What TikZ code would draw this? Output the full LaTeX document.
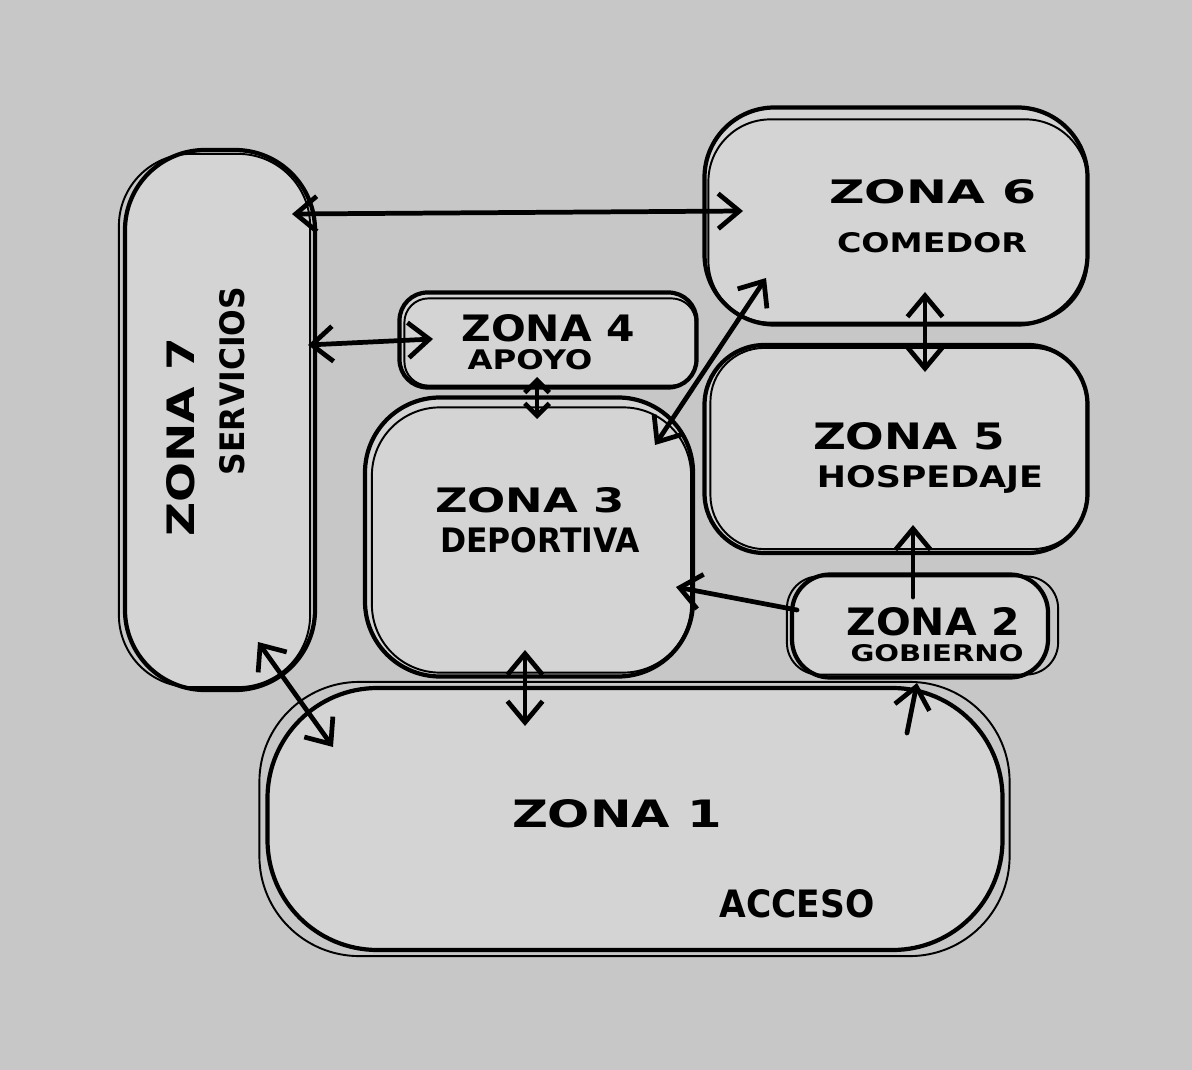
\documentclass[tikz,border=0pt]{standalone}
\usepackage{fontspec}
\usepackage{graphicx}
\setsansfont{DejaVu Sans}
\usetikzlibrary{arrows.meta,calc}
\newdimen\px \px=0.02cm
\newcommand{\hw}[3]{\resizebox{#1\px}{#2\px}{\sffamily\bfseries #3}}
\definecolor{bgc}{gray}{0.78}
\definecolor{zfill}{gray}{0.83}
\begin{document}
\begin{tikzpicture}[x=0.02cm,y=-0.02cm,
  zone/.style={draw=black, line width=2.4pt, fill=zfill, rounded corners=#1, inner sep=0pt, shape=rectangle},
  sketch/.style={draw=black, line width=1.1pt, rounded corners=#1},
  lbl/.style={inner sep=0pt, text=black},
  onearr/.style={line width=2.7pt, line cap=round, -{Straight Barb[length=12pt,width=20pt]}},
  twoarr/.style={line width=2.7pt, line cap=round, {Straight Barb[length=12pt,width=20pt]}-{Straight Barb[length=12pt,width=20pt]}},
  shortarr/.style={line width=2.7pt, line cap=round, {Straight Barb[length=7pt,width=14pt]}-{Straight Barb[length=7pt,width=14pt]}}
]
\fill[bgc] (0,0) rectangle (1192,1070);
\useasboundingbox (0,0) rectangle (1192,1070);

% zones
\node[zone=80\px, minimum width=190\px, minimum height=540\px] (z7) at (220,420) {};
\node[zone=70\px, minimum width=383\px, minimum height=217\px] (z6) at (896,216) {};
\node[zone=28\px, minimum width=297\px, minimum height=95\px] (z4) at (548,340) {};
\node[zone=75\px, minimum width=328\px, minimum height=279\px] (z3) at (529,537) {};
\node[zone=60\px, minimum width=383\px, minimum height=208\px] (z5) at (896,449) {};
\node[zone=38\px, minimum width=256\px, minimum height=103\px] (z2) at (920,626) {};
\node[zone=110\px, minimum width=735\px, minimum height=262\px] (z1) at (635,819) {};

% second sketch strokes
\draw[sketch=72\px] ($(z7.north west)+(-4,6)$) rectangle ($(z7.south east)+(-7,-5)$);
\draw[sketch=62\px] ($(z6.north west)+(6,14)$) rectangle ($(z6.south east)+(-2,-4)$);
\draw[sketch=24\px] ($(z4.north west)+(7,8)$) rectangle ($(z4.south east)+(-3,-4)$);
\draw[sketch=68\px] ($(z3.north west)+(9,12)$) rectangle ($(z3.south east)+(-4,-6)$);
\draw[sketch=54\px] ($(z5.north west)+(8,5)$) rectangle ($(z5.south east)+(-3,-6)$);
\draw[sketch=32\px] ($(z2.north west)+(-3,4)$) rectangle ($(z2.south east)+(8,-5)$);
\draw[sketch=100\px] ($(z1.north west)+(-6,-4)$) rectangle ($(z1.south east)+(5,4)$);

% labels
\node[lbl, rotate=90] (t7a) at (181,437) {\hw{199}{28}{ZONA 7}};
\node[lbl, rotate=90] (t7b) at (232,381) {\hw{188}{25}{SERVICIOS}};
\node[lbl] (t6a) at (933,192) {\hw{207}{24}{ZONA 6}};
\node[lbl] (t6b) at (932,243) {\hw{190}{20}{COMEDOR}};
\node[lbl] (t4a) at (548,328) {\hw{173}{27}{ZONA 4}};
\node[lbl] (t4b) at (530,360) {\hw{125}{20}{APOYO}};
\node[lbl] (t3a) at (530,500) {\hw{190}{25}{ZONA 3}};
\node[lbl] (t3b) at (540,540) {\hw{200}{25}{DEPORTIVA}};
\node[lbl] (t5a) at (909,436) {\hw{192}{27}{ZONA 5}};
\node[lbl] (t5b) at (930,479) {\hw{226}{22}{HOSPEDAJE}};
\node[lbl] (t2a) at (933,622) {\hw{173}{28}{ZONA 2}};
\node[lbl] (t2b) at (937,653) {\hw{173}{17}{GOBIERNO}};
\node[lbl] (t1a) at (617,814) {\hw{210}{28}{ZONA 1}};
\node[lbl] (t1b) at (797,904) {\hw{155}{28}{ACCESO}};

% connector end points
\coordinate (a76s) at (292,214); \coordinate (a76e) at (743,211);
\coordinate (a74s) at (308,345); \coordinate (a74e) at (433,339);
\coordinate (a43s) at (537,377); \coordinate (a43e) at (537,419);
\coordinate (a36s) at (655,445); \coordinate (a36e) at (766,278);
\coordinate (a65s) at (925,292); \coordinate (a65e) at (925,372);
\coordinate (a25s) at (913,597); \coordinate (a25e) at (913,525);
\coordinate (a23s) at (797,610); \coordinate (a23e) at (676,587);
\coordinate (a31s) at (525,650); \coordinate (a31e) at (525,726);
\coordinate (a12s) at (907,733); \coordinate (a12e) at (917,683);
\coordinate (a71s) at (258,642); \coordinate (a71e) at (333,747);

% connectors
\draw[twoarr] (a76s) -- (a76e);
\draw[twoarr] (a74s) -- (a74e);
\draw[shortarr] (a43s) -- (a43e);
\draw[twoarr] (a36s) -- (a36e);
\draw[twoarr] (a65s) -- (a65e);
\draw[onearr] (a25s) -- (a25e);
\draw[onearr] (a23s) -- (a23e);
\draw[twoarr] (a31s) -- (a31e);
\draw[onearr] (a12s) -- (a12e);
\draw[twoarr] (a71s) -- (a71e);
\end{tikzpicture}
\end{document}
